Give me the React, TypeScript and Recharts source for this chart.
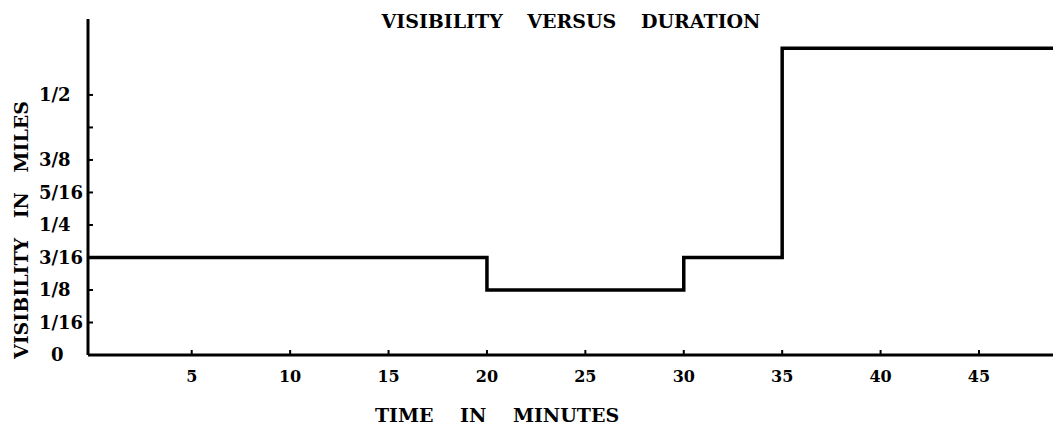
import React from 'react';
import { LineChart, Line, XAxis, YAxis } from 'recharts';

const xMin = -0.27;
const xMax = 48.76;
const times = [xMin, 20, 30, 35, xMax];
const visibility = [3 / 16, 1 / 8, 3 / 16, 0.59, 0.59];
const xTicks = [5, 10, 15, 20, 25, 30, 35, 40, 45];
const yTicks = [0, 1 / 16, 1 / 8, 3 / 16, 1 / 4, 5 / 16, 3 / 8, 7 / 16, 1 / 2];
const yTickLabels = ['0', '1/16', '1/8', '3/16', '1/4', '5/16', '3/8', '', '1/2'];

const data = times.map((t, i) => ({ t, v: visibility[i] }));

const FONT = '"DejaVu Serif", "Liberation Serif", serif';

const YTick = (props: any) => {
  const { x, y, payload } = props;
  const idx = yTicks.indexOf(payload.value);
  const label = idx >= 0 ? yTickLabels[idx] : '';
  return (
    <text
      x={label === '0' ? x + 12 : x}
      y={y}
      dy="0.36em"
      textAnchor="start"
      fontFamily={FONT}
      fontWeight="bold"
      fontSize={18}
      fill="#000"
    >
      {label}
    </text>
  );
};

const XTick = (props: any) => {
  const { x, y, payload } = props;
  return (
    <text
      x={x}
      y={y}
      dy="0.72em"
      textAnchor="middle"
      fontFamily={FONT}
      fontWeight="bold"
      fontSize={16}
      fill="#000"
    >
      {payload.value}
    </text>
  );
};

export default function App() {
  return (
    <div style={{ position: 'absolute', left: 0, top: 0, width: 1053, height: 431, background: '#fff' }}>
      <LineChart
        width={1053}
        height={431}
        data={data}
        margin={{ top: 19, right: 0, bottom: 0, left: 0 }}
      >
        <XAxis
          dataKey="t"
          type="number"
          domain={[xMin, xMax]}
          ticks={xTicks}
          interval={0}
          height={76}
          axisLine={{ stroke: '#000', strokeWidth: 3 }}
          tickLine={{ stroke: '#000', strokeWidth: 2 }}
          tickSize={-5}
          tickMargin={20}
          tick={<XTick />}
          allowDataOverflow
        />
        <YAxis
          type="number"
          domain={[0, 0.646]}
          ticks={yTicks}
          interval={0}
          width={88}
          axisLine={{ stroke: '#000', strokeWidth: 3 }}
          tickLine={{ stroke: '#000', strokeWidth: 2 }}
          tickSize={-5}
          tickMargin={54}
          tick={<YTick />}
          allowDataOverflow
        />
        <Line
          type="stepAfter"
          dataKey="v"
          stroke="#000"
          strokeWidth={3.5}
          dot={false}
          isAnimationActive={false}
        />
        <text
          x={571}
          y={21}
          textAnchor="middle"
          dominantBaseline="central"
          fontFamily={FONT}
          fontWeight="bold"
          fontSize={19}
          fill="#000"
          style={{ wordSpacing: 18 }}
        >
          VISIBILITY VERSUS DURATION
        </text>
        <text
          x={497}
          y={415}
          textAnchor="middle"
          dominantBaseline="central"
          fontFamily={FONT}
          fontWeight="bold"
          fontSize={19}
          fill="#000"
          style={{ wordSpacing: 20 }}
        >
          TIME IN MINUTES
        </text>
        <text
          x={21}
          y={230}
          textAnchor="middle"
          dominantBaseline="central"
          fontFamily={FONT}
          fontWeight="bold"
          fontSize={19}
          fill="#000"
          transform="rotate(-90 21 230)"
          style={{ wordSpacing: 13 }}
        >
          VISIBILITY IN MILES
        </text>
      </LineChart>
    </div>
  );
}
